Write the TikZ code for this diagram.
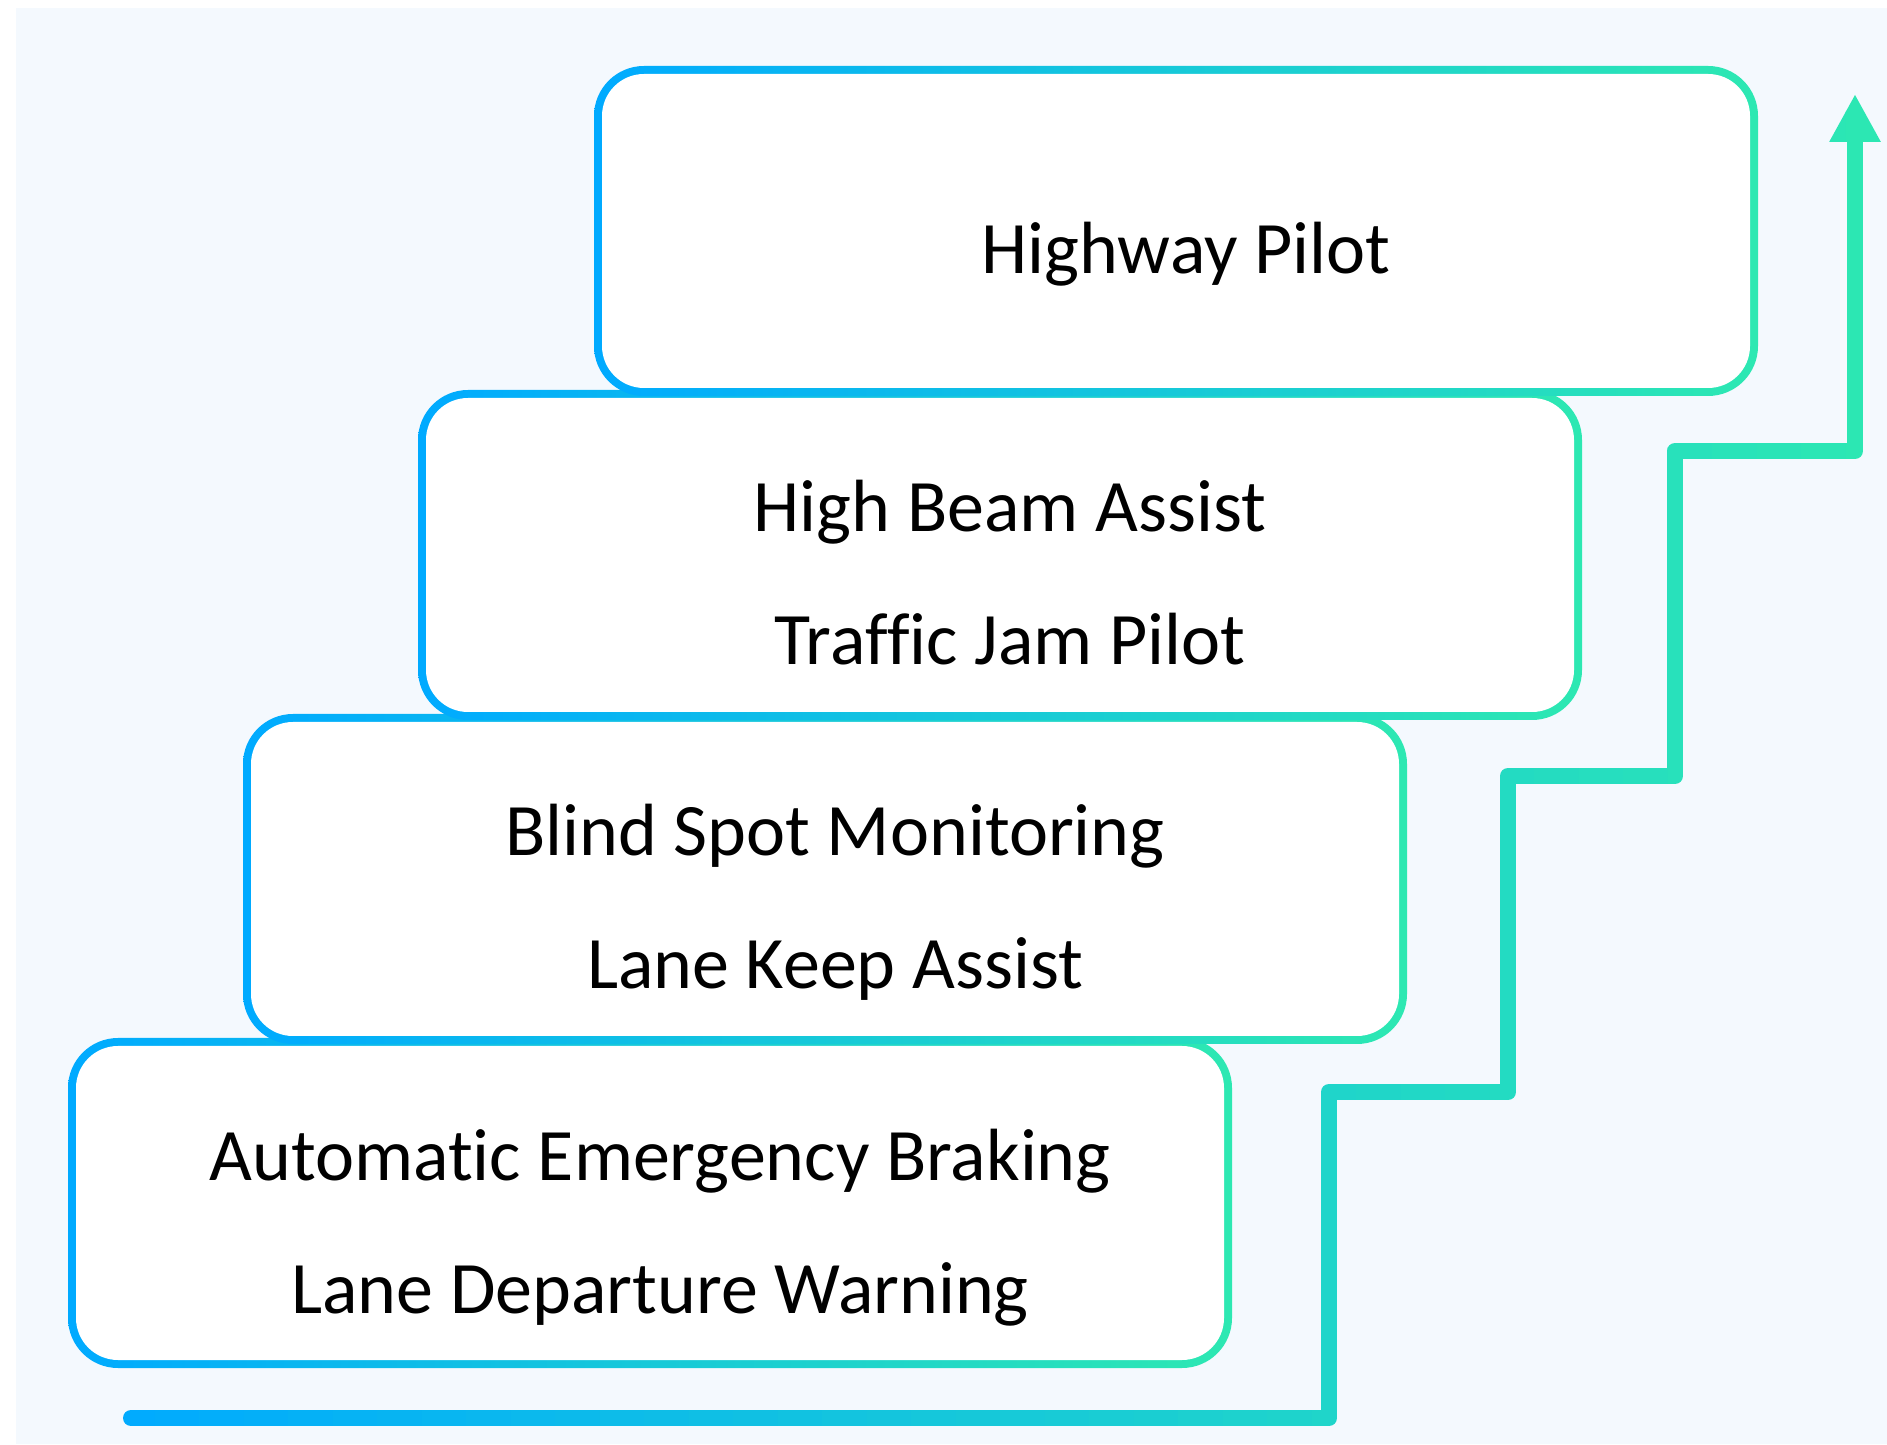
\documentclass[tikz,border=0pt]{standalone}
\usepackage{fontspec}
\setmainfont{Carlito}[Ligatures={NoCommon,NoRare,NoContextual}]
\usetikzlibrary{arrows.meta}

\definecolor{cblue}{RGB}{0,170,255}
\definecolor{cgreen}{RGB}{45,232,178}
\definecolor{cbg}{RGB}{244,249,254}

\tikzstyle{stepshade} = [rectangle,rounded corners=50pt,minimum width=1164pt,minimum height=330pt,inner sep=0pt,left color=cblue,right color=cgreen]
\tikzstyle{stepbox} = [rectangle,rounded corners=42pt,minimum width=1148pt,minimum height=314pt,inner sep=0pt,fill=white]
\tikzstyle{steplabel} = [anchor=base,inner sep=0pt,font=\fontsize{74}{88}\selectfont]
\tikzstyle{stairline} = [line width=16pt,line cap=round,line join=round,-{Triangle[width=48pt,length=48pt]}]

\begin{document}
\begin{tikzpicture}[x=1pt,y=1pt]
	\useasboundingbox (0,0) rectangle (1887,1444);
	\fill[cbg] (16,0) rectangle (1887,1436);
	% steps, lowest first
	\node[stepshade] (s1) at (650,241) {};
	\node[stepbox] (b1) at (s1) {};
	\node[steplabel] (t1a) at ([xshift=10,yshift=23]b1.center) {Automatic Emergency Braking};
	\node[steplabel] (t1b) at ([xshift=10,yshift=-110]b1.center) {Lane Departure Warning};
	\node[stepshade] (s2) at (825,565) {};
	\node[stepbox] (b2) at (s2) {};
	\node[steplabel] (t2a) at ([xshift=10,yshift=23]b2.center) {Blind Spot Monitoring};
	\node[steplabel] (t2b) at ([xshift=10,yshift=-110]b2.center) {Lane Keep Assist};
	\node[stepshade] (s3) at (1000,889) {};
	\node[stepbox] (b3) at (s3) {};
	\node[steplabel] (t3a) at ([xshift=10,yshift=23]b3.center) {High Beam Assist};
	\node[steplabel] (t3b) at ([xshift=10,yshift=-110]b3.center) {Traffic Jam Pilot};
	\node[stepshade] (s4) at (1176,1213) {};
	\node[stepbox] (b4) at (s4) {};
	\node[steplabel] (t4) at ([xshift=10,yshift=-43]b4.center) {Highway Pilot};
	% stair arrow
	\coordinate (p0) at (131,26);
	\coordinate (p1) at (1329,26);
	\coordinate (p2) at (1329,352);
	\coordinate (p3) at (1508,352);
	\coordinate (p4) at (1508,668);
	\coordinate (p5) at (1675,668);
	\coordinate (p6) at (1675,993);
	\coordinate (p7) at (1855,993);
	\coordinate (tip) at (1855,1350);
	\foreach \i in {0,...,39}{
		\pgfmathsetmacro\pct{(\i+0.5)*2.5}
		\begin{scope}
			\clip (110+\i*44.5,0) rectangle ++(45,1444);
			\draw[stairline,draw=cgreen!\pct!cblue] (p0) -- (p1) -- (p2) -- (p3) -- (p4) -- (p5) -- (p6) -- (p7) -- (tip);
		\end{scope}
	}
\end{tikzpicture}
\end{document}
